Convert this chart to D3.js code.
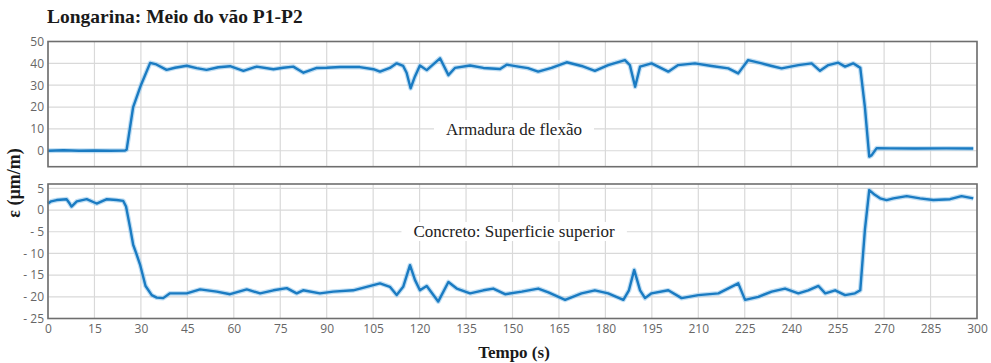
<!DOCTYPE html>
<html>
<head>
<meta charset="utf-8">
<script src="https://cdn.jsdelivr.net/npm/d3@7/dist/d3.min.js"></script>
<style>
  html, body { margin: 0; padding: 0; background: #fff; }
  svg { display: block; }
</style>
</head>
<body>
<svg id="chart" width="991" height="363"></svg>
<script>
// Strain readings at mid-span P1-P2 (µm/m) against time (s)
const timeArmadura = [0, 5, 10, 15, 20, 24.9, 25.4, 27.5, 30, 33, 35, 38.3, 41, 44.8, 48, 51.2, 55, 58.8, 63.1, 67.4,
  72.8, 76, 79.2, 82.5, 86.8, 90, 94.3, 100.7, 105.1, 107.2, 110.4, 112.6, 114.7, 115.8, 117.1, 118.5, 120.1, 122.3,
  126.6, 129.3, 131.4, 136.3, 140.6, 146, 148.1, 151.9, 155, 158.3, 162.6, 167.5, 172.3, 176.6, 180.9, 186.3, 187.9,
  189.6, 191.2, 194.9, 200.3, 203.5, 208.9, 214.3, 219.7, 222.9, 226.1, 230.5, 233.7, 236.9, 242.3, 246.6, 249.3,
  252, 255.2, 257.4, 260, 261.7, 262.3, 263.8, 265.2, 266, 267.6, 272, 280, 290, 298.8];
const strainArmadura = [0, 0.2, 0, 0.1, 0, 0.1, 0.5, 20, 30, 40.2, 39.5, 37, 38, 38.9, 37.8, 37, 38.2, 38.7, 36.6, 38.5,
  37.3, 38, 38.5, 35.7, 37.9, 38, 38.3, 38.3, 37.3, 36.2, 37.9, 40, 38.8, 35.7, 28.6, 34, 39, 36.9,
  42.3, 34.6, 37.9, 39, 37.9, 37.4, 39.4, 38.5, 37.8, 36.2, 37.9, 40.5, 38.8, 36.6, 39.2, 41.5, 39.2,
  29.3, 38.5, 40, 36.2, 39.2, 40, 38.8, 37.7, 35.4, 41.5, 40, 38.8, 37.7, 39.2, 40, 36.6,
  39.2, 40.3, 38.5, 40, 38.5, 38, 20, -2.7, -2, 1.2, 1.1, 1, 1.1, 1];

const timeConcreto = [0, 1, 2.8, 6, 7, 7.6, 9.3, 12.5, 15.7, 19, 22.2, 24.3, 25.2, 26.5, 27.5, 28.5, 29.7, 31.5, 33.5,
  35.1, 37.2, 39.4, 44.8, 49.1, 54.5, 58.8, 64.2, 68.5, 72.8, 77.1, 80.3, 82.4, 87.8, 92.1, 98.6, 102.9, 107.2,
  110.4, 112.6, 114.7, 116.9, 118.5, 120.1, 122.3, 126, 129.3, 132, 136.3, 140.6, 143.8, 147.6, 153, 158.3, 161.6,
  167, 172.3, 176.6, 180.9, 185.8, 187.6, 189.3, 191.2, 192.8, 194.9, 200.3, 204.6, 210, 216.5, 222.9, 225.1,
  229.4, 233.7, 238, 242.3, 245.5, 248.8, 251, 254.2, 257.4, 260.6, 262.3, 263.8, 265.2, 267, 268.7, 270.8, 273,
  277.3, 281.6, 285.9, 291.3, 295, 298.8];
const strainConcreto = [1.5, 2, 2.3, 2.5, 1.5, 0.8, 2, 2.5, 1.5, 2.5, 2.3, 2.1, 0.8, -4, -8, -10, -12.5, -17.5, -19.6,
  -20.2, -20.3, -19.2, -19.2, -18.3, -18.8, -19.4, -18.3, -19.2, -18.5, -18, -19.2, -18.5, -19.2, -18.8, -18.5, -17.7, -16.9,
  -17.7, -19.6, -17.7, -12.7, -16.1, -18.5, -17.5, -21.1, -16.6, -18.1, -19.2, -18.5, -18.1, -19.4, -18.8, -18.1, -19,
  -20.7, -19.2, -18.5, -19.2, -20.7, -18.5, -13.8, -18.5, -20.3, -19.2, -18.5, -20.3, -19.6, -19.2, -16.9, -20.7,
  -20, -18.8, -18.1, -19.2, -18.5, -17.5, -19.2, -18.5, -19.6, -19.2, -18.5, -4.6, 4.6, 3.5, 2.7, 2.3, 2.7,
  3.2, 2.7, 2.3, 2.5, 3.2, 2.7];

const timeTicks = d3.range(0, 301, 15);
const armaduraTicks = [0, 10, 20, 30, 40, 50];
const concretoTicks = [5, 0, -5, -10, -15, -20, -25];

const svg = d3.select("#chart");
const left = 48, right = 977;
const x = d3.scaleLinear().domain([0, 300]).range([left, right]);

const panels = [
  { t: timeArmadura, v: strainArmadura, ticks: armaduraTicks, domain: [-7.3, 50], range: [166.7, 41.5],
    label: "Armadura de flexão", labelY: 130 },
  { t: timeConcreto, v: strainConcreto, ticks: concretoTicks, domain: [-25, 6], range: [318.5, 184],
    label: "Concreto: Superficie superior", labelY: 232 }
];

const serif = "'Liberation Serif', 'Times New Roman', serif";
const sans = "'Open Sans', 'DejaVu Sans', sans-serif";

panels.forEach((p, i) => {
  const y = d3.scaleLinear().domain(p.domain).range(p.range);
  const g = svg.append("g");
  const top = p.range[1], bottom = p.range[0];

  // grid
  g.append("g").selectAll("line.v").data(timeTicks).join("line")
    .attr("x1", d => x(d)).attr("x2", d => x(d))
    .attr("y1", top).attr("y2", bottom)
    .attr("stroke", "#d9d9d9").attr("stroke-width", 1.2);
  g.append("g").selectAll("line.h").data(p.ticks).join("line")
    .attr("x1", left).attr("x2", right)
    .attr("y1", d => y(d)).attr("y2", d => y(d))
    .attr("stroke", "#d9d9d9").attr("stroke-width", 1.2);

  // annotation with white backing
  const txt = g.append("text")
    .attr("x", 514).attr("y", p.labelY + 5)
    .attr("text-anchor", "middle")
    .attr("font-family", serif).attr("font-size", 17)
    .attr("fill", "#222")
    .text(p.label);
  const bb = txt.node().getBBox();
  g.insert("rect", "text")
    .attr("x", bb.x - 12).attr("y", bb.y)
    .attr("width", bb.width + 24).attr("height", bb.height)
    .attr("fill", "#fff");

  // series
  const pts = p.t.map((t, k) => [t, p.v[k]]);
  const line = d3.line().x(d => x(d[0])).y(d => y(d[1]));
  g.append("path").datum(pts).attr("d", line)
    .attr("fill", "none").attr("stroke", "#8cc3ea").attr("stroke-width", 4.8)
    .attr("stroke-linejoin", "round").attr("opacity", 0.55);
  g.append("path").datum(pts).attr("d", line)
    .attr("fill", "none").attr("stroke", "#1a7bc2").attr("stroke-width", 2.4)
    .attr("stroke-linejoin", "round");

  // frame
  g.append("rect").attr("x", left).attr("y", top)
    .attr("width", right - left).attr("height", bottom - top)
    .attr("fill", "none").attr("stroke", "#6e6e6e").attr("stroke-width", 1.6);

  // y axis labels
  const yAxis = d3.axisLeft(y).tickValues(p.ticks).tickSize(0).tickPadding(4)
    .tickFormat(d => d < 0 ? "- " + Math.abs(d) : String(d));
  const ya = g.append("g").attr("transform", `translate(${left},0)`).call(yAxis);
  ya.select(".domain").remove();
  ya.selectAll("text").attr("font-family", sans).attr("font-size", 12).attr("fill", "#666");

  if (i === 1) {
    const xAxis = d3.axisBottom(x).tickValues(timeTicks).tickSize(0).tickPadding(6);
    const xa = g.append("g").attr("transform", `translate(0,${bottom})`).call(xAxis);
    xa.select(".domain").remove();
    xa.selectAll("text").attr("font-family", sans).attr("font-size", 12).attr("fill", "#666");
  }
});

// titles
svg.append("text").attr("x", 47).attr("y", 23)
  .attr("font-family", serif).attr("font-weight", "bold").attr("font-size", 19.5)
  .attr("fill", "#1a1a1a").text("Longarina: Meio do vão P1-P2");

svg.append("text").attr("x", 514).attr("y", 358)
  .attr("text-anchor", "middle")
  .attr("font-family", serif).attr("font-weight", "bold").attr("font-size", 17)
  .attr("fill", "#1a1a1a").text("Tempo (s)");

svg.append("text")
  .attr("transform", "translate(20,183) rotate(-90)")
  .attr("text-anchor", "middle")
  .attr("font-family", serif).attr("font-weight", "bold").attr("font-size", 18)
  .attr("fill", "#1a1a1a").text("ε (µm/m)");
</script>
</body>
</html>
